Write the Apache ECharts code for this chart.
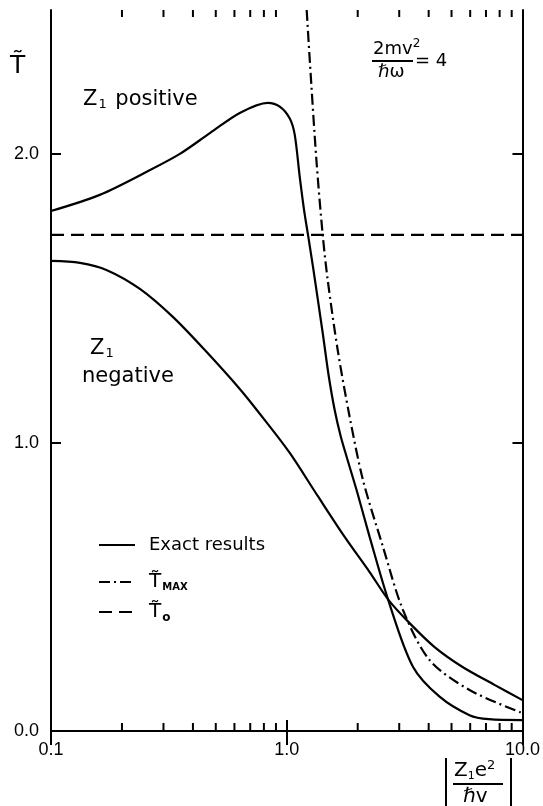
<!DOCTYPE html>
<html>
<head>
<meta charset="utf-8">
<title>Reduced temperature vs coupling</title>
<script src="https://cdn.jsdelivr.net/npm/echarts@6/dist/echarts.min.js"></script>
<style>
  html, body { margin: 0; padding: 0; background: #fff; }
  #chart { width: 543px; height: 806px; }
</style>
</head>
<body>
<div id="chart"></div>
<script>
// Exact results, Z1 positive
const posX = [0.1, 0.161, 0.263, 0.352, 0.472, 0.632, 0.831, 0.934, 1.030, 1.081, 1.135, 1.184, 1.231, 1.292, 1.421, 1.507, 1.597, 1.693, 1.796, 2.0, 2.247, 2.71, 3.43, 4.45, 5.96, 7.20, 10.0];
const posY = [1.803, 1.859, 1.945, 2.001, 2.073, 2.143, 2.178, 2.165, 2.124, 2.068, 1.922, 1.807, 1.720, 1.610, 1.380, 1.231, 1.113, 1.023, 0.950, 0.822, 0.673, 0.448, 0.223, 0.119, 0.055, 0.041, 0.038];

// Exact results, Z1 negative
const negX = [0.1, 0.1327, 0.1727, 0.2383, 0.3288, 0.4493, 0.6322, 0.8069, 1.030, 1.353, 1.761, 2.247, 2.705, 3.320, 4.238, 5.570, 7.609, 10.0];
const negY = [1.630, 1.623, 1.598, 1.533, 1.436, 1.321, 1.186, 1.078, 0.964, 0.815, 0.673, 0.551, 0.454, 0.374, 0.291, 0.222, 0.160, 0.107];

// T_MAX approximation
const maxX = [1.215, 1.252, 1.336, 1.421, 1.492, 1.645, 1.849, 2.106, 2.559, 3.111, 4.036, 5.963, 10.0];
const maxY = [2.5, 2.327, 1.980, 1.720, 1.564, 1.321, 1.089, 0.870, 0.639, 0.420, 0.246, 0.142, 0.062];

// T_0 (constant)
const t0X = [0.1, 10.0];
const t0Y = [1.72, 1.72];

// Axis ranges and tick values
const X_MIN = 0.1, X_MAX = 10.0;
const Y_MIN = 0, Y_MAX = 2.5;
const yTickValues = [1.0, 2.0];
const yLabelValues = [0.0, 1.0, 2.0];
const minorTickValues = [0.2, 0.3, 0.4, 0.5, 0.6, 0.7, 0.8, 0.9, 2, 3, 4, 5, 6, 7, 8, 9];

const zip = (xs, ys) => xs.map((x, i) => [x, ys[i]]);

const FONT = 'Liberation Sans';
const ANNO = 'DejaVu Sans';

const chart = echarts.init(document.getElementById('chart'));

const axisLine = { show: true, lineStyle: { color: '#000', width: 2 } };
const hiddenMarker = { color: 'rgba(0,0,0,0)', borderWidth: 0 };

const option = {
  backgroundColor: '#fff',
  animation: false,
  grid: { left: 51, right: 20, top: 10, bottom: 75 },
  xAxis: [
    {
      type: 'log', logBase: 10, min: X_MIN, max: X_MAX, position: 'bottom',
      axisLine,
      axisTick: { show: true, inside: true, length: 11, lineStyle: { color: '#000', width: 2 } },
      axisLabel: {
        show: true, margin: 10, color: '#000', fontFamily: FONT, fontSize: 18,
        formatter: v => Number(v).toFixed(1)
      },
      splitLine: { show: false }
    },
    {
      type: 'log', logBase: 10, min: X_MIN, max: X_MAX, position: 'top',
      axisLine,
      axisTick: { show: true, inside: true, length: 14, lineStyle: { color: '#000', width: 2 } },
      axisLabel: { show: false },
      splitLine: { show: false }
    }
  ],
  yAxis: [
    {
      type: 'value', min: Y_MIN, max: Y_MAX, interval: 0.5, position: 'left',
      axisLine,
      axisTick: { show: true, inside: true, length: 10, lineStyle: { color: '#000', width: 2 },
        customValues: yTickValues },
      axisLabel: {
        show: true, margin: 12, color: '#000', fontFamily: FONT, fontSize: 18,
        customValues: yLabelValues,
        formatter: v => Number(v).toFixed(1)
      },
      splitLine: { show: false }
    },
    {
      type: 'value', min: Y_MIN, max: Y_MAX, interval: 0.5, position: 'right',
      axisLine,
      axisTick: { show: true, inside: true, length: 10, lineStyle: { color: '#000', width: 2 },
        customValues: yTickValues },
      axisLabel: { show: false },
      splitLine: { show: false }
    }
  ],
  legend: [
    {
      left: 93, top: 531, orient: 'vertical', itemWidth: 36, itemHeight: 14,
      data: ['Exact results'], itemStyle: hiddenMarker,
      textStyle: { fontFamily: ANNO, fontSize: 18, color: '#000', padding: [0, 0, 0, 9] }
    },
    {
      left: 93, top: 567, orient: 'vertical', itemWidth: 36, itemHeight: 14,
      data: ['T_MAX'], itemStyle: hiddenMarker,
      formatter: () => '{t|T\u0303}{s|MAX}',
      textStyle: {
        padding: [0, 0, 0, 9], color: '#000',
        rich: {
          t: { fontFamily: ANNO, fontSize: 20, color: '#000' },
          s: { fontFamily: ANNO, fontSize: 10, fontWeight: 'bold', color: '#000', padding: [11, 0, 0, 1] }
        }
      }
    },
    {
      left: 93, top: 597, orient: 'vertical', itemWidth: 36, itemHeight: 14,
      data: ['T_0'], itemStyle: hiddenMarker,
      formatter: () => '{t|T\u0303}{s|o}',
      textStyle: {
        padding: [0, 0, 0, 9], color: '#000',
        rich: {
          t: { fontFamily: ANNO, fontSize: 20, color: '#000' },
          s: { fontFamily: ANNO, fontSize: 12, fontWeight: 'bold', color: '#000', padding: [11, 0, 0, 1] }
        }
      }
    }
  ],
  series: [
    {
      name: 'Exact results', type: 'line', data: zip(posX, posY),
      smooth: 0.3, symbol: 'none', clip: true,
      lineStyle: { color: '#000', width: 2.2 }, itemStyle: { color: '#000' }
    },
    {
      name: 'Exact results', type: 'line', data: zip(negX, negY),
      smooth: 0.3, symbol: 'none', clip: true,
      lineStyle: { color: '#000', width: 2.2 }, itemStyle: { color: '#000' }
    },
    {
      name: 'T_MAX', type: 'line', data: zip(maxX, maxY),
      smooth: 0.3, symbol: 'none', clip: true,
      lineStyle: { color: '#000', width: 2.2, type: [11, 4, 2, 4] }, itemStyle: { color: '#000' }
    },
    {
      name: 'T_0', type: 'line', data: zip(t0X, t0Y),
      symbol: 'none', clip: true,
      lineStyle: { color: '#000', width: 2.2, type: [13, 7] }, itemStyle: { color: '#000' }
    },
    {
      // minor ticks of the log axis (2..9 in each decade), on bottom and top edges
      name: 'minor ticks', type: 'custom', clip: false, silent: true,
      data: minorTickValues.map(v => [v, Y_MIN]),
      encode: { x: 0, y: 1 },
      renderItem: (params, api) => {
        const v = api.value(0);
        const b = api.coord([v, Y_MIN]);
        const t = api.coord([v, Y_MAX]);
        const st = { stroke: '#000', lineWidth: 2 };
        return {
          type: 'group',
          children: [
            { type: 'line', shape: { x1: b[0], y1: b[1], x2: b[0], y2: b[1] - 8 }, style: st },
            { type: 'line', shape: { x1: t[0], y1: t[1], x2: t[0], y2: t[1] + 7 }, style: st }
          ]
        };
      }
    }
  ],
  graphic: [
    // y-axis title
    { type: 'text', left: 10, top: 54, style: { text: 'T\u0303', font: '25px ' + ANNO, fill: '#000' } },
    // Z1 positive
    { type: 'text', left: 83, top: 89, style: {
        text: '{a|Z}{s|1}{a| positive}',
        rich: {
          a: { fontFamily: ANNO, fontSize: 21, fill: '#000' },
          s: { fontFamily: ANNO, fontSize: 13, fill: '#000', padding: [10, 2, 0, 1] }
        }
    } },
    // Z1 negative
    { type: 'text', left: 90, top: 338, style: {
        text: '{a|Z}{s|1}',
        rich: {
          a: { fontFamily: ANNO, fontSize: 21, fill: '#000' },
          s: { fontFamily: ANNO, fontSize: 13, fill: '#000', padding: [10, 0, 0, 1] }
        }
    } },
    { type: 'text', left: 82, top: 366, style: { text: 'negative', font: '21px ' + ANNO, fill: '#000' } },
    // 2mv^2 / hbar omega = 4
    { type: 'text', left: 373, top: 38, style: {
        text: '{a|2mv}{p|2}',
        rich: { a: { fontFamily: ANNO, fontSize: 18, fill: '#000' }, p: { fontFamily: ANNO, fontSize: 12, fill: '#000', padding: [0, 0, 10, 0] } }
    } },
    { type: 'line', shape: { x1: 372, y1: 61, x2: 413, y2: 61 }, style: { stroke: '#000', lineWidth: 2 } },
    { type: 'text', left: 378, top: 63, style: { text: '\u210Fω', font: '18px ' + ANNO, fill: '#000' } },
    { type: 'text', left: 415, top: 52, style: { text: '= 4', font: '18px ' + ANNO, fill: '#000' } },
    // x-axis title |Z1 e^2 / hbar v|
    { type: 'line', shape: { x1: 446, y1: 758, x2: 446, y2: 806 }, style: { stroke: '#000', lineWidth: 2 } },
    { type: 'line', shape: { x1: 511, y1: 758, x2: 511, y2: 806 }, style: { stroke: '#000', lineWidth: 2 } },
    { type: 'text', left: 454, top: 759, style: {
        text: '{a|Z}{s|1}{a|e}{p|2}',
        rich: {
          a: { fontFamily: ANNO, fontSize: 20, fill: '#000' },
          s: { fontFamily: ANNO, fontSize: 11, fill: '#000', padding: [10, 0, 0, 0] },
          p: { fontFamily: ANNO, fontSize: 13, fill: '#000', padding: [0, 0, 11, 0] }
        }
    } },
    { type: 'line', shape: { x1: 453, y1: 784, x2: 503, y2: 784 }, style: { stroke: '#000', lineWidth: 2 } },
    { type: 'text', left: 463, top: 787, style: { text: '\u210Fv', font: '20px ' + ANNO, fill: '#000' } }
  ]
};

chart.setOption(option);
</script>
</body>
</html>
